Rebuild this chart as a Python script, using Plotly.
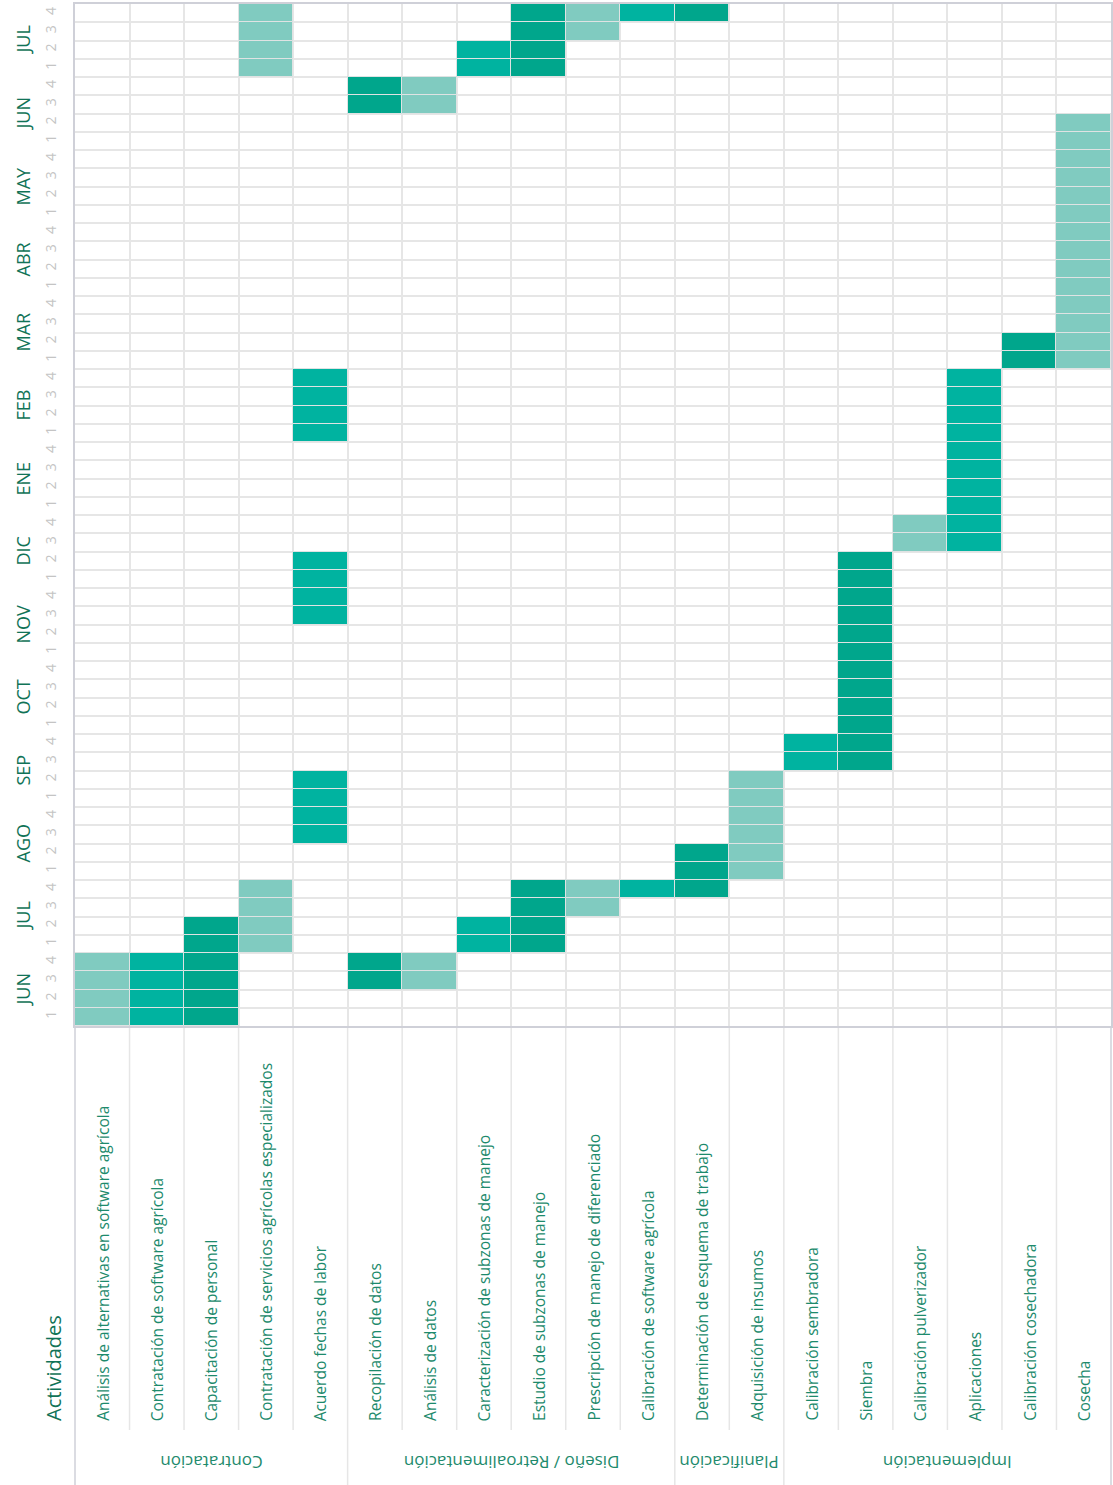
import plotly.graph_objects as go

# ---------------- data ----------------
activities = [
    "Análisis de alternativas en software agrícola",
    "Contratación de software agrícola",
    "Capacitación de personal",
    "Contratación de servicios agrícolas especializados",
    "Acuerdo fechas de labor",
    "Recopilación de datos",
    "Análisis de datos",
    "Caracterización de subzonas de manejo",
    "Estudio de subzonas de manejo",
    "Prescripción de manejo de diferenciado",
    "Calibración de software agrícola",
    "Determinación de esquema de trabajo",
    "Adquisición de insumos",
    "Calibración sembradora",
    "Siembra",
    "Calibración pulverizador",
    "Aplicaciones",
    "Calibración cosechadora",
    "Cosecha",
]
group_names = ["Contratación", "Diseño / Retroalimentación", "Planificación", "Implementación"]
group_sizes = [5, 6, 2, 6]
months = ["JUN", "JUL", "AGO", "SEP", "OCT", "NOV", "DIC", "ENE", "FEB", "MAR", "ABR", "MAY", "JUN", "JUL"]
week_labels = ["1", "2", "3", "4"]

# tasks: activity index, first week, last week (0 = first week of first JUN), tone
task_activity = [0, 1, 2, 3, 3, 4, 4, 4, 5, 5, 6, 6, 7, 7, 8, 8, 9, 9, 10, 10, 11, 11, 12, 13, 14, 15, 16, 17, 18]
task_start =    [0, 0, 0, 4, 52, 10, 22, 32, 2, 50, 2, 50, 4, 52, 4, 52, 6, 54, 7, 55, 7, 55, 8, 14, 14, 26, 26, 36, 36]
task_end =      [3, 3, 5, 7, 55, 13, 25, 35, 3, 51, 3, 51, 5, 53, 7, 55, 7, 55, 7, 55, 9, 55, 13, 15, 25, 27, 35, 37, 49]
task_tone = ["light", "medium", "dark", "light", "light", "medium", "medium", "medium", "dark", "dark",
             "light", "light", "medium", "medium", "dark", "dark", "light", "light", "medium", "medium",
             "dark", "dark", "light", "medium", "dark", "light", "medium", "dark", "light"]

tone_colors = {"light": "#80CBC0", "medium": "#00B3A0", "dark": "#00A68C"}

# ---------------- figure ----------------
W, H = 1113, 1485
ML, MR, MT, MB = 75, 2, 4, 459
plot_h = H - MT - MB
plot_w = W - ML - MR
n_weeks = len(months) * 4
n_act = len(activities)

def py(px_y):
    # pixel y (from top) -> paper coordinate
    return (H - MB - px_y) / plot_h

def px(px_x):
    return (px_x - ML) / plot_w

fig = go.Figure()

for tone, color in tone_colors.items():
    xs, bases = [], []
    for a, s, e, t in zip(task_activity, task_start, task_end, task_tone):
        if t != tone:
            continue
        for w in range(s, e + 1):
            xs.append(a)
            bases.append(w)
    fig.add_trace(go.Bar(
        x=xs, y=[1] * len(xs), base=bases, width=1,
        marker=dict(color=color, line=dict(color="#dfe3e3", width=1)),
        hoverinfo="skip", showlegend=False,
    ))

label_color = "#1d8a6c"
month_color = "#117357"
grid_light = "#e6e6e6"
grid_dark = "#cfd0d8"

annotations = []
# month labels
for m, name in enumerate(months):
    annotations.append(dict(
        x=px(22), xref="paper", y=m * 4 + 2, yref="y", text=name, showarrow=False,
        textangle=-90, font=dict(size=18, color=month_color, family="Open Sans"),
        xanchor="center", yanchor="middle"))

# activity labels
for i, name in enumerate(activities):
    annotations.append(dict(
        x=i, xref="x", y=py(1423), yref="paper", text=name, showarrow=False,
        textangle=-90, font=dict(size=15.5, color=label_color, family="Open Sans"),
        xanchor="center", yanchor="bottom"))

annotations.append(dict(
    x=px(53), xref="paper", y=py(1423), yref="paper", text="Actividades", showarrow=False,
    textangle=-90, font=dict(size=20, color=month_color, family="Open Sans"),
    xanchor="center", yanchor="bottom"))

shapes = []
start = 0
bounds = []
for gname, gsize in zip(group_names, group_sizes):
    center = start + (gsize - 1) / 2
    annotations.append(dict(
        x=center, xref="x", y=py(1462), yref="paper", text=gname, showarrow=False,
        textangle=180, font=dict(size=17, color=label_color, family="Open Sans"),
        xanchor="center", yanchor="middle"))
    start += gsize
    bounds.append(start - 0.5)

# separators in the label area
for b in range(n_act - 1):
    xb = b + 0.5
    is_group = any(abs(xb - gb) < 1e-9 for gb in bounds)
    shapes.append(dict(type="line", xref="x", yref="paper", x0=xb, x1=xb,
                       y0=py(H) if is_group else py(1430), y1=0,
                       line=dict(color=grid_light, width=1.5), layer="below"))
# outer left/right lines extended
for xp in (0, 1):
    shapes.append(dict(type="line", xref="paper", yref="paper", x0=xp, x1=xp,
                       y0=py(H), y1=0, line=dict(color=grid_dark, width=1.5)))

fig.update_layout(
    width=W, height=H,
    margin=dict(l=ML, r=MR, t=MT, b=MB, pad=0, autoexpand=False),
    paper_bgcolor="white", plot_bgcolor="white",
    barmode="overlay",
    bargap=0,
    font=dict(family="Open Sans"),
    xaxis=dict(
        range=[-0.5, n_act - 0.5],
        tickvals=[i + 0.5 for i in range(n_act - 1)],
        showticklabels=False, ticks="", automargin=False,
        showgrid=True, gridcolor=grid_light, gridwidth=1.5,
        showline=True, linecolor=grid_dark, linewidth=1.5, mirror=True,
        zeroline=False, fixedrange=True,
    ),
    yaxis=dict(
        range=[0, n_weeks],
        tickvals=[w + 0.5 for w in range(n_weeks)],
        ticktext=[week_labels[w % 4] for w in range(n_weeks)],
        tickangle=-90, ticks="", ticklabelstandoff=12, automargin=False,
        tickfont=dict(size=14, color="#c4c4c4", family="Open Sans"),
        showgrid=False,
        minor=dict(dtick=1, tick0=0, showgrid=True, gridcolor=grid_light, gridwidth=1.5),
        showline=True, linecolor=grid_dark, linewidth=1.5, mirror=True,
        zeroline=False, fixedrange=True,
    ),
    yaxis2=dict(
        range=[0, n_weeks], overlaying="y", side="left", automargin=False,
        tickvals=[m * 4 for m in range(len(months) + 1)],
        showticklabels=False, ticks="",
        showgrid=True, gridcolor=grid_dark, gridwidth=1.5,
        zeroline=False, fixedrange=True,
    ),
    annotations=annotations,
    shapes=shapes,
)

fig.write_html("out.html", config={"displayModeBar": False},
               post_script="document.body.style.margin='0px';document.body.style.padding='0px';")
